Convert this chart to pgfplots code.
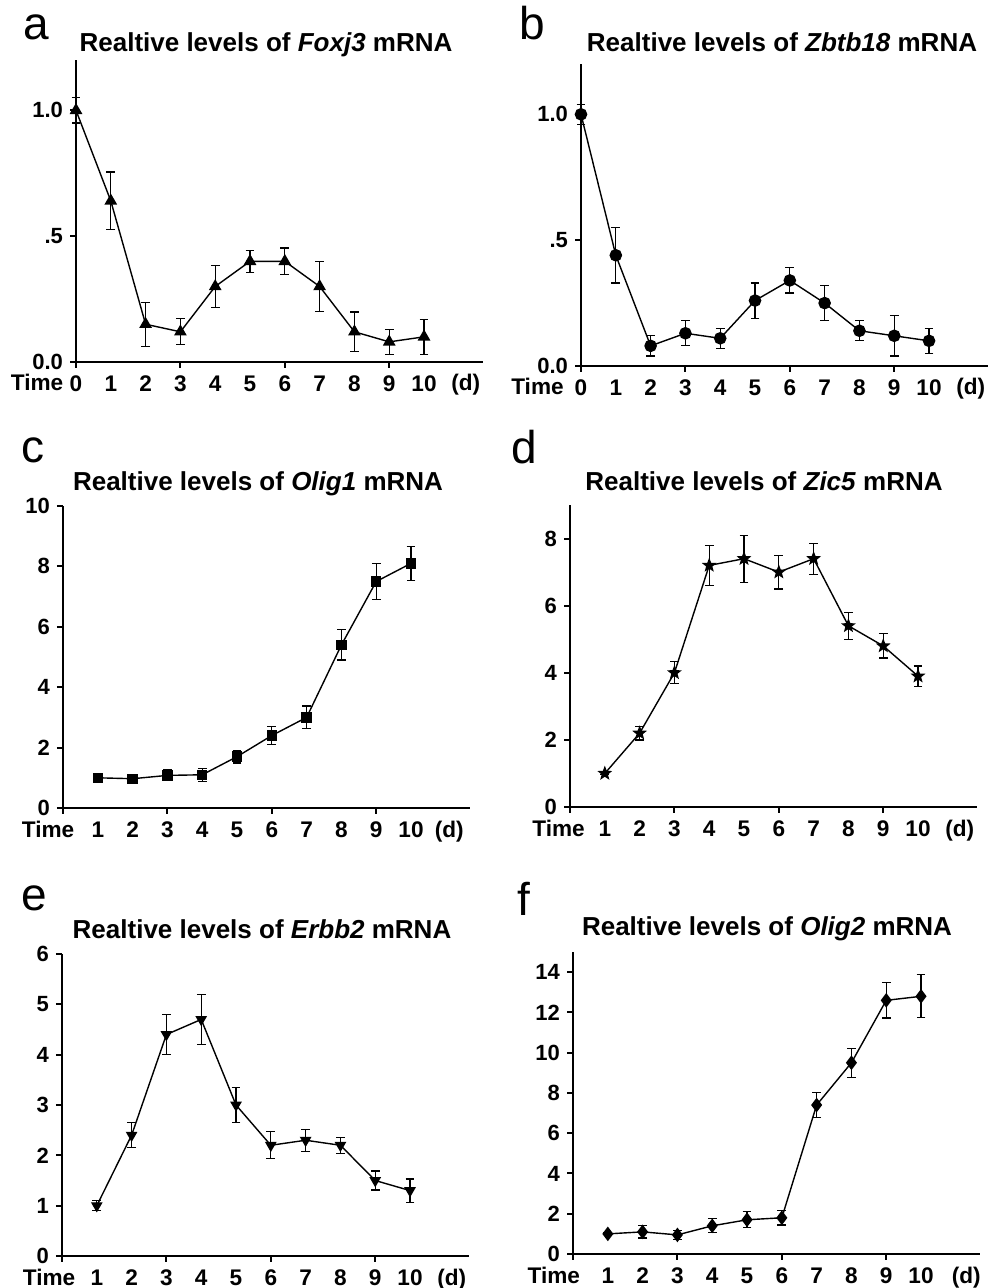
\documentclass[border=0pt]{standalone}
\usepackage{fontspec}
\setmainfont{Liberation Sans}
\usepackage{pgfplots}
\pgfplotsset{compat=1.18}
\usetikzlibrary{plotmarks}

% filled five-pointed star
\pgfdeclareplotmark{fstar}{%
  \pgfpathmoveto{\pgfqpointpolar{90}{\pgfplotmarksize}}%
  \pgfpathlineto{\pgfqpointpolar{126}{0.42\pgfplotmarksize}}%
  \pgfpathlineto{\pgfqpointpolar{162}{\pgfplotmarksize}}%
  \pgfpathlineto{\pgfqpointpolar{198}{0.42\pgfplotmarksize}}%
  \pgfpathlineto{\pgfqpointpolar{234}{\pgfplotmarksize}}%
  \pgfpathlineto{\pgfqpointpolar{270}{0.42\pgfplotmarksize}}%
  \pgfpathlineto{\pgfqpointpolar{306}{\pgfplotmarksize}}%
  \pgfpathlineto{\pgfqpointpolar{342}{0.42\pgfplotmarksize}}%
  \pgfpathlineto{\pgfqpointpolar{18}{\pgfplotmarksize}}%
  \pgfpathlineto{\pgfqpointpolar{54}{0.42\pgfplotmarksize}}%
  \pgfpathclose\pgfusepathqfillstroke}

\newcommand\tickfont{\bfseries\fontsize{11.3}{12}\selectfont}
\newcommand\dticks{\draw[line width=1pt] (axis cs:0,0) -- ++(0,-3pt) (axis cs:3,0) -- ++(0,-3pt) (axis cs:6,0) -- ++(0,-3pt) (axis cs:9,0) -- ++(0,-3pt);}

\pgfplotsset{
  panel/.style={
    anchor=south west,
    scale only axis, width=203.6pt, height=151pt,
    xmin=0, xmax=11.7, ymin=0,
    axis x line*=bottom, axis y line*=left,
    axis line style={line width=1pt},
    tick align=outside, major tick length=3pt,
    xtick style={draw=none},
    ytick style={line width=1pt, black},
    clip=false,
    xticklabel style={font=\tickfont, anchor=base, yshift=-11.5pt},
    yticklabel style={font=\bfseries\fontsize{11}{12}\selectfont},
  },
  dat/.style={black, line width=0.7pt, mark options={solid},
    error bars/y dir=both, error bars/y explicit,
    error bars/error bar style={line width=0.6pt},
    error bars/error mark options={rotate=90, mark size=2.2pt, line width=0.6pt}},
}

\begin{document}
\begin{tikzpicture}
\path[use as bounding box] (0,0) rectangle (493.5pt,-644pt);

% panel letters and titles
\node[anchor=base west, font=\fontsize{23}{26}\selectfont] at (8pt,-20pt) {a};
\node[anchor=base west, font=\fontsize{23}{26}\selectfont] at (256pt,-20pt) {b};
\node[anchor=base west, font=\fontsize{23}{26}\selectfont] at (7pt,-231pt) {c};
\node[anchor=base west, font=\fontsize{23}{26}\selectfont] at (252pt,-231.5pt) {d};
\node[anchor=base west, font=\fontsize{23}{26}\selectfont] at (7pt,-455pt) {e};
\node[anchor=base west, font=\fontsize{23}{26}\selectfont] at (255pt,-457.5pt) {f};

\node[anchor=base, font=\bfseries\fontsize{13}{15}\selectfont] at (133pt,-26pt) {Realtive levels of \textit{Foxj3} mRNA};
\node[anchor=base, font=\bfseries\fontsize{13}{15}\selectfont] at (391pt,-26pt) {Realtive levels of \textit{Zbtb18} mRNA};
\node[anchor=base, font=\bfseries\fontsize{13}{15}\selectfont] at (129pt,-245pt) {Realtive levels of \textit{Olig1} mRNA};
\node[anchor=base, font=\bfseries\fontsize{13}{15}\selectfont] at (382pt,-245.3pt) {Realtive levels of \textit{Zic5} mRNA};
\node[anchor=base, font=\bfseries\fontsize{13}{15}\selectfont] at (131pt,-469pt) {Realtive levels of \textit{Erbb2} mRNA};
\node[anchor=base, font=\bfseries\fontsize{13}{15}\selectfont] at (383.5pt,-467.5pt) {Realtive levels of \textit{Olig2} mRNA};

% a
\begin{axis}[panel, at={(38pt,-181pt)}, ymax=1.2,
  xtick={0,...,10}, xticklabels={0,1,2,3,4,5,6,7,8,9,10},
  ytick={0,0.5,1}, yticklabels={0.0,.5,1.0}]
\addplot[dat, mark=triangle*, mark size=3pt] coordinates {
(0,1.00) +- (0,0.05)
(1,0.64) +- (0,0.115)
(2,0.15) +- (0,0.088)
(3,0.12) +- (0,0.052)
(4,0.30) +- (0,0.085)
(5,0.40) +- (0,0.043)
(6,0.40) +- (0,0.053)
(7,0.30) +- (0,0.10)
(8,0.12) +- (0,0.079)
(9,0.08) +- (0,0.05)
(10,0.10) +- (0,0.07)
};
\dticks
\node[font=\tickfont, anchor=base, yshift=-14.5pt] at (axis cs:-1.12,0) {Time};
\node[font=\tickfont, anchor=base, yshift=-14.5pt] at (axis cs:11.2,0) {(d)};
\end{axis}

% b
\begin{axis}[panel, at={(290.5pt,-183pt)}, ymax=1.2,
  xtick={0,...,10}, xticklabels={0,1,2,3,4,5,6,7,8,9,10},
  ytick={0,0.5,1}, yticklabels={0.0,.5,1.0}]
\addplot[dat, mark=*, mark size=2.8pt] coordinates {
(0,1.00) +- (0,0.04)
(1,0.44) +- (0,0.11)
(2,0.08) +- (0,0.04)
(3,0.13) +- (0,0.05)
(4,0.11) +- (0,0.04)
(5,0.26) +- (0,0.07)
(6,0.34) +- (0,0.05)
(7,0.25) +- (0,0.07)
(8,0.14) +- (0,0.04)
(9,0.12) +- (0,0.08)
(10,0.10) +- (0,0.05)
};
\dticks
\node[font=\tickfont, anchor=base, yshift=-14.5pt] at (axis cs:-1.25,0) {Time};
\node[font=\tickfont, anchor=base, yshift=-14.5pt] at (axis cs:11.2,0) {(d)};
\end{axis}

% c
\begin{axis}[panel, at={(31.5pt,-404pt)}, ymax=10,
  xtick={1,...,10}, xticklabels={1,2,3,4,5,6,7,8,9,10},
  ytick={0,2,4,6,8,10}, yticklabels={0,2,4,6,8,10}]
\addplot[dat, mark=square*, mark size=2.25pt] coordinates {
(1,1.00) +- (0,0.05)
(2,0.97) +- (0,0.08)
(3,1.08) +- (0,0.18)
(4,1.10) +- (0,0.22)
(5,1.70) +- (0,0.21)
(6,2.40) +- (0,0.31)
(7,3.00) +- (0,0.38)
(8,5.40) +- (0,0.50)
(9,7.50) +- (0,0.60)
(10,8.10) +- (0,0.56)
};
\dticks
\node[font=\tickfont, anchor=base, yshift=-14.5pt] at (axis cs:-0.43,0) {Time};
\node[font=\tickfont, anchor=base, yshift=-14.5pt] at (axis cs:11.1,0) {(d)};
\end{axis}

% d
\begin{axis}[panel, at={(285pt,-403.5pt)}, ymax=9,
  xtick={1,...,10}, xticklabels={1,2,3,4,5,6,7,8,9,10},
  ytick={0,2,4,6,8}, yticklabels={0,2,4,6,8}]
\addplot[dat, mark=fstar, mark size=2.9pt] coordinates {
(1,1.0) +- (0,0.03)
(2,2.2) +- (0,0.2)
(3,4.0) +- (0,0.33)
(4,7.2) +- (0,0.6)
(5,7.4) +- (0,0.7)
(6,7.0) +- (0,0.5)
(7,7.4) +- (0,0.46)
(8,5.4) +- (0,0.4)
(9,4.8) +- (0,0.36)
(10,3.9) +- (0,0.3)
};
\dticks
\node[font=\tickfont, anchor=base, yshift=-14.5pt] at (axis cs:-0.33,0) {Time};
\node[font=\tickfont, anchor=base, yshift=-14.5pt] at (axis cs:11.2,0) {(d)};
\end{axis}

% e
\begin{axis}[panel, at={(31pt,-628pt)}, ymax=6,
  xtick={1,...,10}, xticklabels={1,2,3,4,5,6,7,8,9,10},
  ytick={0,...,6}, yticklabels={0,1,2,3,4,5,6}]
\addplot[dat, mark=triangle*, mark size=2.7pt, mark options={rotate=180}] coordinates {
(1,1.0) +- (0,0.1)
(2,2.4) +- (0,0.25)
(3,4.4) +- (0,0.4)
(4,4.7) +- (0,0.5)
(5,3.0) +- (0,0.35)
(6,2.2) +- (0,0.27)
(7,2.3) +- (0,0.22)
(8,2.2) +- (0,0.16)
(9,1.5) +- (0,0.19)
(10,1.3) +- (0,0.23)
};
\dticks
\node[font=\tickfont, anchor=base, yshift=-14.5pt] at (axis cs:-0.37,0) {Time};
\node[font=\tickfont, anchor=base, yshift=-14.5pt] at (axis cs:11.2,0) {(d)};
\end{axis}

% f
\begin{axis}[panel, at={(286.5pt,-627pt)}, ymax=15,
  xtick={1,...,10}, xticklabels={1,2,3,4,5,6,7,8,9,10},
  ytick={0,2,...,14}, yticklabels={0,2,4,6,8,10,12,14}]
\addplot[dat, mark=diamond*, mark size=3.1pt] coordinates {
(1,1.0) +- (0,0.05)
(2,1.1) +- (0,0.3)
(3,0.95) +- (0,0.22)
(4,1.4) +- (0,0.35)
(5,1.7) +- (0,0.4)
(6,1.8) +- (0,0.36)
(7,7.4) +- (0,0.62)
(8,9.5) +- (0,0.72)
(9,12.6) +- (0,0.88)
(10,12.8) += (0,1.1) -= (0,1.05)
};
\dticks
\node[font=\tickfont, anchor=base, yshift=-14.5pt] at (axis cs:-0.55,0) {Time};
\node[font=\tickfont, anchor=base, yshift=-14.5pt] at (axis cs:11.3,0) {(d)};
\end{axis}
\end{tikzpicture}
\end{document}
